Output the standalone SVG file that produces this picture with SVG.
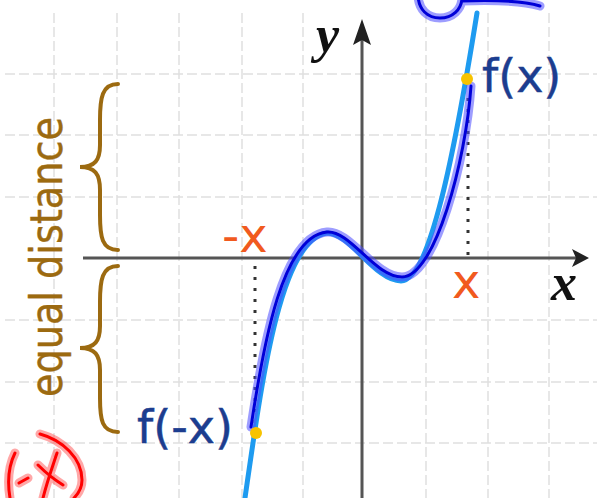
<svg xmlns="http://www.w3.org/2000/svg" width="597" height="498" viewBox="0 0 597 498">
<style>
.grid{stroke:#e0e0e0;stroke-width:1.5;stroke-dasharray:10 4;fill:none}
.axis{stroke:#555;stroke-width:3;fill:none}
.dots{stroke:#333;stroke-width:3;stroke-dasharray:3 8;fill:none}
.fn{stroke:#1E9BF0;stroke-width:5;fill:none;stroke-linecap:round}
.halo{stroke:#4d4dff;stroke-opacity:.55;stroke-width:9;fill:none;stroke-linecap:round;stroke-linejoin:round}
.ink{stroke:#0000d8;stroke-width:3;fill:none;stroke-linecap:round;stroke-linejoin:round}
.rhalo{stroke:#ff5050;stroke-opacity:.5;stroke-width:9;fill:none;stroke-linecap:round;stroke-linejoin:round}
.rink{stroke:#ff0000;stroke-width:3;fill:none;stroke-linecap:round;stroke-linejoin:round}
.brace{stroke:#9C6A10;stroke-width:4;fill:none;stroke-linecap:round}
.lbl{font-family:"DejaVu Sans",sans-serif;font-size:46px;fill:#1c3d8f;stroke:#1c3d8f;stroke-width:0.5}
.org{font-family:"DejaVu Sans",sans-serif;font-size:48px;fill:#F15A1E}
.ax{font-family:"Liberation Serif",serif;font-style:italic;font-weight:bold;font-size:52px;fill:#111}
</style>
<rect width="597" height="498" fill="#fff"/>
<g id="grid">
<path class="grid" d="M54,13V498M117,13V498M179,13V498M242,13V498M303,13V498M426,13V498M488,13V498M549,13V498"/>
<path class="grid" d="M5,74H597M5,135H597M5,197H597M5,320H597M5,382H597M5,443H597"/>
</g>
<g id="axes">
<path class="axis" d="M83,258H578"/>
<path d="M589,258 L572,249 L576,258 L572,267 Z" fill="#222"/>
<path class="axis" d="M362,498V38"/>
<path d="M362,19 L353,45 L362,40 L371,45 Z" fill="#222"/>
<text class="ax" x="316" y="52">y</text>
<text class="ax" x="551" y="300">x</text>
</g>
<g id="connectors">
<path class="dots" d="M255,266V428"/>
<path class="dots" d="M468,98V255"/>
</g>
<g id="curve">
<path class="fn" d="M245,498 C262,380 280,240 327,233 C350,233 375,281 401,281 C430,281 455,150 477,13"/>
</g>
<g id="highlight">
<path class="halo" d="M251,427 C264,340 283,236 327,232 C350,230 375,277 402,277 C435,277 466,160 471,86"/>
<path class="ink" d="M251,427 C264,340 283,236 327,232 C350,230 375,277 402,277 C435,277 466,160 471,86"/>
<path class="halo" d="M418,-6 C418,10 428,18 440,18 C452,18 462,10 462,-3 M462,1 C490,0 520,0 540,6"/>
<path class="ink" d="M418,-6 C418,10 428,18 440,18 C452,18 462,10 462,-3 M462,1 C490,0 520,0 540,6"/>
</g>
<g id="points">
<circle cx="467" cy="79" r="6" fill="#F7C300"/>
<circle cx="256" cy="433" r="6" fill="#F7C300"/>
</g>
<g id="label-fx">
<text class="lbl" x="482" y="92">f(x)</text>
</g>
<g id="label-fmx">
<text class="lbl" x="137" y="443">f(-x)</text>
</g>
<g id="label-x">
<text class="org" x="222" y="252">-x</text>
<text class="org" x="452" y="298">x</text>
</g>
<g id="braces">
<path class="brace" d="M118,84 C102,84 100,98 100,120 L100,145 C100,160 95,167 80,167 C95,167 100,174 100,190 L100,215 C100,237 102,250 118,250"/>
<path class="brace" d="M118,266 C102,266 100,280 100,302 L100,326 C100,341 95,348 80,348 C95,348 100,355 100,370 L100,398 C100,420 102,432 118,432"/>
<text transform="translate(62,257) rotate(-90)" text-anchor="middle" textLength="280" lengthAdjust="spacingAndGlyphs" style="font-family:'DejaVu Sans',sans-serif;font-size:44px;fill:#9C6A10;stroke:#9C6A10;stroke-width:0.4">equal distance</text>
</g>
<g id="red-note">
<path class="rhalo" d="M15,453 C9,465 7,480 10,498 M19,483 L28,478 M38,465 C45,472 55,480 63,485 M57,453 C52,468 47,482 43,498 M40,434 C62,440 82,458 82,480 C82,488 78,494 74,498"/>
<path class="rink" d="M15,453 C9,465 7,480 10,498 M19,483 L28,478 M38,465 C45,472 55,480 63,485 M57,453 C52,468 47,482 43,498 M40,434 C62,440 82,458 82,480 C82,488 78,494 74,498"/>
</g>
</svg>
